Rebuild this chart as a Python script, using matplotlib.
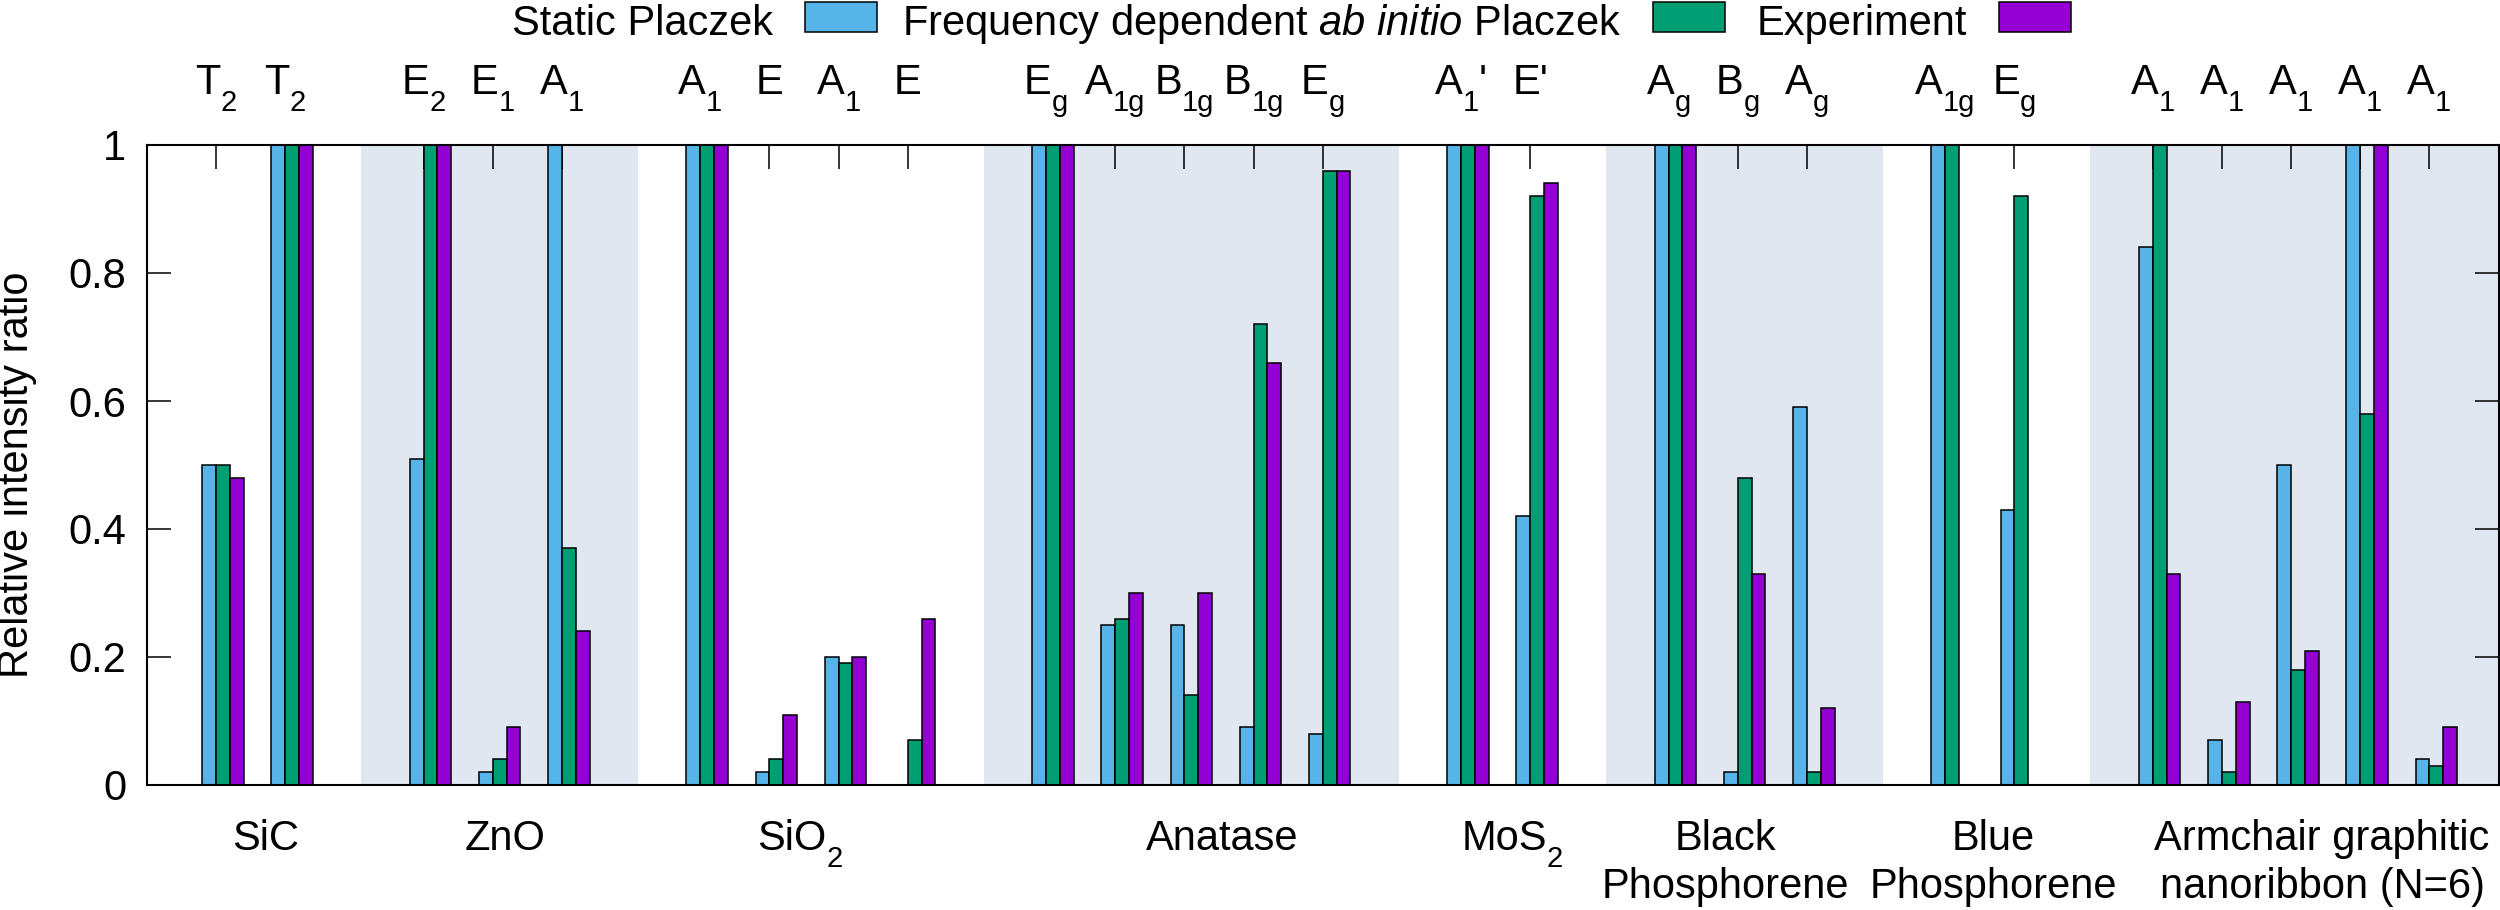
import re
import numpy as np
import matplotlib
matplotlib.use("Agg")
import matplotlib.pyplot as plt
from matplotlib.patches import Rectangle
from matplotlib.transforms import blended_transform_factory, ScaledTranslation

plt.rcParams['font.family'] = ['Liberation Sans', 'DejaVu Sans']
plt.rcParams['mathtext.fontset'] = 'custom'
plt.rcParams['mathtext.rm'] = 'Liberation Sans'
plt.rcParams['mathtext.it'] = 'Liberation Sans:italic'
plt.rcParams['mathtext.bf'] = 'Liberation Sans:bold'

# ---------------- data ----------------
groups = ["SiC", "ZnO", "SiO_2", "Anatase", "MoS_2",
          "Black\nPhosphorene", "Blue\nPhosphorene", "Armchair graphitic\nnanoribbon (N=6)"]
group_label_pos = [0.71, 4.17, 8.44, 14.54, 18.74, 21.82, 25.7, 30.45]
shaded_groups = [False, True, False, True, False, True, False, True]

modes = [
    ["T_2", "T_2"],
    ["E_2", "E_1", "A_1"],
    ["A_1", "E", "A_1", "E"],
    ["E_g", "A_{1g}", "B_{1g}", "B_{1g}", "E_g"],
    ["A_1'", "E'"],
    ["A_g", "B_g", "A_g"],
    ["A_{1g}", "E_g"],
    ["A_1", "A_1", "A_1", "A_1", "A_1"],
]

static_placzek = [0.50, 1.00,
                  0.51, 0.02, 1.00,
                  1.00, 0.02, 0.20, np.nan,
                  1.00, 0.25, 0.25, 0.09, 0.08,
                  1.00, 0.42,
                  1.00, 0.02, 0.59,
                  1.00, 0.43,
                  0.84, 0.07, 0.50, 1.00, 0.04]
freq_placzek = [0.50, 1.00,
                1.00, 0.04, 0.37,
                1.00, 0.04, 0.19, 0.07,
                1.00, 0.26, 0.14, 0.72, 0.96,
                1.00, 0.92,
                1.00, 0.48, 0.02,
                1.00, 0.92,
                1.00, 0.02, 0.18, 0.58, 0.03]
experiment = [0.48, 1.00,
              1.00, 0.09, 0.24,
              1.00, 0.11, 0.20, 0.26,
              1.00, 0.30, 0.30, 0.66, 0.96,
              1.00, 0.94,
              1.00, 0.33, 0.12,
              np.nan, np.nan,
              0.33, 0.13, 0.21, 1.00, 0.09]

series_names = ["Static Placzek", "Frequency dependent $\\mathit{ab\\ initio}$ Placzek", "Experiment"]
series_colors = ["#56b4e9", "#009e73", "#9400d3"]
series_values = [static_placzek, freq_placzek, experiment]

yticks = [0, 0.2, 0.4, 0.6, 0.8, 1.0]
ytick_labels = ["0", "0.2", "0.4", "0.6", "0.8", "1"]

# ---------------- layout ----------------
W, H = 2500, 910
DPI = 100
fig = plt.figure(figsize=(W / DPI, H / DPI), dpi=DPI)
ax = fig.add_axes([147 / W, 1 - 785 / H, (2498.5 - 147) / W, 640 / H])
FS = 30
SUB_FS = 21
SUB_DROP = 17  # px

renderer = fig.canvas.get_renderer()


def text_width(s, size):
    t = fig.text(0, 0, s, fontsize=size)
    w = t.get_window_extent(renderer).width
    t.remove()
    return w


def parse(lab):
    m = re.match(r"^([^_]*)(?:_(\{[^}]*\}|.))?(.*)$", lab)
    main, sub, rest = m.group(1), m.group(2), m.group(3)
    parts = [(main, False)]
    if sub:
        parts.append((sub.strip("{}"), True))
    if rest:
        parts.append((rest, False))
    return parts


trans_top = blended_transform_factory(ax.transData, fig.transFigure)


def draw_label(x, y_px, lab):
    parts = parse(lab)
    widths = [text_width(s, SUB_FS if sub else FS) for s, sub in parts]
    total = sum(widths)
    cur = -total / 2
    for (s, sub), w in zip(parts, widths):
        off = ScaledTranslation(cur / DPI, (-SUB_DROP if sub else 0) / DPI,
                                fig.dpi_scale_trans)
        ax.text(x, 1 - y_px / H, s, transform=trans_top + off, ha="left",
                va="baseline", fontsize=SUB_FS if sub else FS, clip_on=False)
        cur += w


# positions: one slot per mode, one empty slot between groups
positions = []
group_ranges = []
pos = 0
for g in modes:
    start = pos
    for _ in g:
        positions.append(pos)
        pos += 1
    group_ranges.append((start, pos - 1))
    pos += 1
positions = np.array(positions, dtype=float)
mode_labels = [m for g in modes for m in g]

# shaded bands
for (s, e), sh in zip(group_ranges, shaded_groups):
    if sh:
        ax.axvspan(s + 0.1 - 1, e + 0.1 + 1, color="#e1e7f0", lw=0, zorder=0)

bw = 0.2
offsets = [-0.1, 0.1, 0.3]
for vals, col, off in zip(series_values, series_colors, offsets):
    ax.bar(positions + off, vals, width=bw, color=col, edgecolor="black",
           linewidth=1.1, zorder=2)

ax.set_xlim(-1, 33)
ax.set_ylim(0, 1)
ax.set_yticks(yticks)
ax.set_yticklabels(ytick_labels, fontsize=FS)
ax.set_xticks(positions)
ax.tick_params(axis="x", top=True, bottom=False, labeltop=False, labelbottom=False,
               direction="in", length=17.5, width=1.1)
ax.tick_params(axis="y", left=True, right=True, direction="in", length=17.5,
               width=1.1, pad=15)
for sp in ax.spines.values():
    sp.set_linewidth(1.5)
    sp.set_zorder(5)

# mode labels on top
for p, lab in zip(positions, mode_labels):
    draw_label(p, 94, lab)

# group labels at bottom
for p, lab in zip(group_label_pos, groups):
    for i, ln in enumerate(lab.split("\n")):
        draw_label(p, 850 + 48 * i, ln)

fig.text(17 / W, 1 - 475 / H, "Relative intensity ratio", rotation=90,
         ha="center", va="center", fontsize=FS)

# legend (text then sample box)
box_left_px = [805, 1653, 1999]
for name, col, bx in zip(series_names, series_colors, box_left_px):
    fig.add_artist(Rectangle((bx / W, 1 - 32 / H), 72 / W, 30 / H,
                             transform=fig.transFigure, facecolor=col,
                             edgecolor="black", linewidth=1.1))
    fig.text((bx - 32) / W, 1 - 35 / H, name, ha="right", va="baseline", fontsize=FS)

fig.savefig("out.png", dpi=DPI)
